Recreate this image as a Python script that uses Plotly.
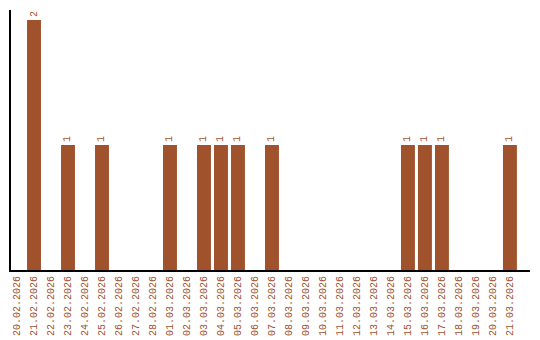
import plotly.graph_objects as go

dates = ["20.02.2026","21.02.2026","22.02.2026","23.02.2026","24.02.2026","25.02.2026",
         "26.02.2026","27.02.2026","28.02.2026","01.03.2026","02.03.2026","03.03.2026",
         "04.03.2026","05.03.2026","06.03.2026","07.03.2026","08.03.2026","09.03.2026",
         "10.03.2026","11.03.2026","12.03.2026","13.03.2026","14.03.2026","15.03.2026",
         "16.03.2026","17.03.2026","18.03.2026","19.03.2026","20.03.2026","21.03.2026"]
counts = [0,2,0,1,0,1,0,0,0,1,0,1,1,1,0,1,0,0,0,0,0,0,0,1,1,1,0,0,0,1]

color = "#A0522D"
font = "Liberation Mono"
labels = [str(v) if v else "" for v in counts]
xs = list(range(len(dates)))

fig = go.Figure(go.Bar(
    x=xs, y=counts, width=0.82, marker=dict(color=color, line=dict(width=0)),
    text=labels, textposition="outside", textangle=-90,
    textfont=dict(family=font, size=10, color=color),
    cliponaxis=False, hoverinfo="skip",
))
fig.update_layout(
    width=540, height=340, margin=dict(l=11, r=10, t=10, b=70, pad=0),
    paper_bgcolor="white", plot_bgcolor="white", showlegend=False,
    xaxis=dict(tickmode="array", tickvals=xs, ticktext=dates, tickangle=-90,
               range=[-0.353, 30.18], showgrid=False, zeroline=False, automargin=False,
               showline=True, linecolor="black", linewidth=2, ticks="",
               tickfont=dict(family=font, size=10, color=color)),
    yaxis=dict(range=[0, 2.08], showgrid=False, zeroline=False, showticklabels=False,
               automargin=False,
               showline=True, linecolor="black", linewidth=2, ticks=""),
)
fig.write_html("out.html")
